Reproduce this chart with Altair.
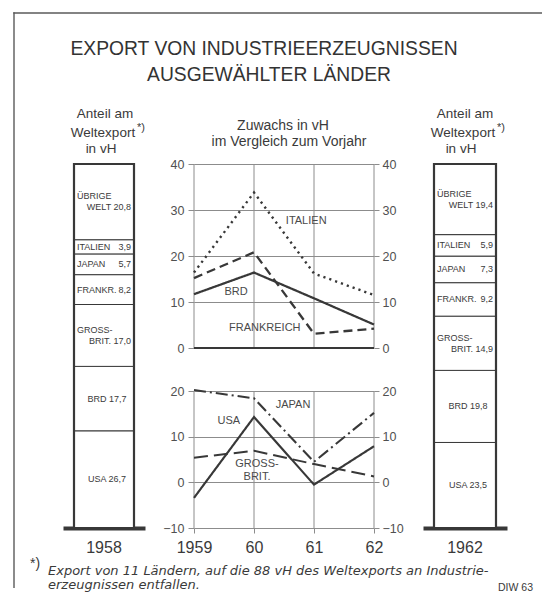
import altair as alt
import pandas as pd

# ---------------- data ----------------
years = [1959, 1960, 1961, 1962]
year_labels = ["1959", "60", "61", "62"]

# growth of exports vs. previous year (vH)
italien    = [16.4, 33.8, 16.2, 11.5]
frankreich = [15.2, 20.8, 3.1, 4.2]
brd        = [11.7, 16.4, 10.8, 5.1]
usa        = [-3.4, 14.3, -0.5, 7.9]
japan      = [20.2, 18.4, 4.5, 15.2]
grossbrit  = [5.4, 6.9, 4.0, 1.3]

# share of world exports (vH), bottom to top
seg_names  = ["USA", "BRD", "GROSS-BRIT.", "FRANKR.", "JAPAN", "ITALIEN", "ÜBRIGE WELT"]
share_1958 = [26.7, 17.7, 17.0, 8.2, 5.7, 3.9, 20.8]
share_1962 = [23.5, 19.8, 14.9, 9.2, 7.3, 5.9, 19.4]

# label layout inside the bars
seg_mode   = ["center", "center", "two", "split", "split", "split", "two"]
seg_line_a = ["", "", "GROSS-", "FRANKR.", "JAPAN", "ITALIEN", "ÜBRIGE"]
seg_line_b = ["USA", "BRD", "BRIT.", "", "", "", "WELT"]

# ---------------- style ----------------
FONT = "Liberation Sans"
TXT = "#3a3a3a"
DARK = "#383838"
GRID = "#8c8c8c"
FRAME = "#5a5a5a"

one = pd.DataFrame({"k": [0]})


def txt(text, x, y, size=13, align="center", italic=False, color=TXT, font=FONT):
    kw = dict(text=text, fontSize=size, align=align, baseline="middle", font=font, color=color)
    if italic:
        kw["fontStyle"] = "italic"
    return alt.Chart(one).mark_text(**kw).encode(x=alt.value(x), y=alt.value(y))


def fmt(v):
    return f"{v:.1f}".replace(".", ",")


def bar_panel(year_lbl, shares, bar_w, view_w, extra=()):
    rows = []
    s = 0.0
    for name, v, mode, la, lb in zip(seg_names, shares, seg_mode, seg_line_a, seg_line_b):
        r = dict(yr=year_lbl, name=name, start=s, end=s + v, mid=s + v / 2, mode=mode,
                 left_txt=la, right_txt="", center_txt="")
        if mode == "center":
            r["center_txt"] = f"{lb} {fmt(v)}"
        elif mode == "split":
            r["right_txt"] = fmt(v)
        else:
            r["right_txt"] = f"{lb} {fmt(v)}"
        rows.append(r)
        s += v
    df = pd.DataFrame(rows)
    total = pd.DataFrame({"yr": [year_lbl], "start": [0.0], "end": [s]})

    po = (view_w - bar_w) / 2 / bar_w
    X = alt.X("yr:N",
              scale=alt.Scale(type="band", domain=[year_lbl], paddingInner=0, paddingOuter=po),
              axis=alt.Axis(domain=True, domainWidth=4, domainColor=DARK, ticks=False, grid=False,
                            labelFontSize=16, labelPadding=11, labelAngle=0, labelColor=TXT,
                            labelFont=FONT, title=None))
    YS = alt.Scale(domain=[0, 100], nice=False, zero=False)

    segs = alt.Chart(df).mark_bar(fill="white", stroke=DARK, strokeWidth=1).encode(
        x=X, y=alt.Y("start:Q", scale=YS, axis=None), y2="end:Q")
    outer = alt.Chart(total).mark_bar(filled=False, stroke=DARK, strokeWidth=2.2).encode(
        x=X, y=alt.Y("start:Q", scale=YS, axis=None), y2="end:Q")

    half = bar_w / 2 - 3
    ymid = alt.Y("mid:Q", scale=YS, axis=None)
    base = alt.Chart(df)
    tk = dict(fontSize=9, font=FONT, color=TXT, baseline="middle")
    t_center = base.transform_filter(alt.datum.mode == "center").mark_text(align="center", dx=3, **tk).encode(
        x=X, y=ymid, text="center_txt:N")
    t_left1 = base.transform_filter(alt.datum.mode == "split").mark_text(align="left", dx=-half, **tk).encode(
        x=X, y=ymid, text="left_txt:N")
    t_right1 = base.transform_filter(alt.datum.mode == "split").mark_text(align="right", dx=half, **tk).encode(
        x=X, y=ymid, text="right_txt:N")
    t_left2 = base.transform_filter(alt.datum.mode == "two").mark_text(align="left", dx=-half, dy=-5.5, **tk).encode(
        x=X, y=ymid, text="left_txt:N")
    t_right2 = base.transform_filter(alt.datum.mode == "two").mark_text(align="right", dx=half, dy=5.5, **tk).encode(
        x=X, y=ymid, text="right_txt:N")

    heads = [
        txt("Anteil am", 42, -50, size=13.5),
        txt("Weltexport", 40, -31, size=13.5),
        txt("*)", 74, -36, size=11, align="left"),
        txt("in vH", 38, -15, size=13.5),
    ]
    return alt.layer(segs, outer, t_center, t_left1, t_right1, t_left2, t_right2, *heads, *extra).properties(
        width=view_w, height=364)


# frame + footnote live in the left panel (coordinates relative to its plot area)
frame_top = alt.Chart(one).mark_rect(color=FRAME).encode(
    x=alt.value(-49.7), x2=alt.value(479), y=alt.value(-151.7), y2=alt.value(-150.3))
frame_left = alt.Chart(one).mark_rect(color=FRAME).encode(
    x=alt.value(-49.7), x2=alt.value(-48.3), y=alt.value(-151.7), y2=alt.value(424))
foot = [
    frame_top, frame_left,
    txt("*)", -33, 400, size=14, align="left"),
    txt("Export von 11 Ländern, auf die 88 vH des Weltexports an Industrie-", -15, 407, size=13,
        align="left", italic=True, font="DejaVu Sans"),
    txt("erzeugnissen entfallen.", -15, 421, size=13, align="left", italic=True, font="DejaVu Sans"),
    txt("DIW 63", 470, 424, size=10.5, align="right"),
]

left = bar_panel("1958", share_1958, 60, 82, extra=foot)
right = bar_panel("1962", share_1962, 62, 84)

# ---------------- middle line charts ----------------
series = {"ITALIEN": italien, "FRANKREICH": frankreich, "BRD": brd,
          "USA": usa, "JAPAN": japan, "GROSS-BRIT.": grossbrit}
panel_of = {"ITALIEN": "U", "FRANKREICH": "U", "BRD": "U", "USA": "L", "JAPAN": "L", "GROSS-BRIT.": "L"}
lines_df = pd.DataFrame([
    {"series": k, "panel": panel_of[k], "year": y, "value": v}
    for k, vals in series.items() for y, v in zip(years, vals)
])

dash_domain = ["ITALIEN", "FRANKREICH", "BRD", "USA", "JAPAN", "GROSS-BRIT."]
dash_range = [[2.2, 4], [9, 5], [1, 0], [1, 0], [12, 4, 2, 4], [14, 6]]
width_range = [2.4, 2.0, 2.0, 3.2, 1.7, 1.8]

label_expr = " : ".join(
    f"datum.value == {y} ? '{l}'" for y, l in zip(years, year_labels)) + " : ''"
x_axis = alt.Axis(values=years, labelExpr=label_expr, domain=False, grid=False, ticks=True, tickSize=5,
                  tickColor=GRID, labelFontSize=16, labelColor=TXT, labelFont=FONT, labelPadding=6,
                  labelFlush=False, labelOverlap=False, title=None)
xenc = alt.X("year:Q", scale=alt.Scale(domain=[1959, 1962], nice=False, zero=False), axis=x_axis)


def yaxis(orient, vals, grid):
    return alt.Axis(orient=orient, values=vals, grid=grid, gridColor=GRID, gridWidth=1, domain=False,
                    ticks=True, tickSize=6 if orient == "left" else 5, tickColor=GRID,
                    labelPadding=4 if orient == "left" else 3, labelFontSize=12.5, labelColor="#505050",
                    labelFont=FONT, labelFlush=False, labelOverlap=False, title=None)


U_DOM, U_RANGE, U_TICKS = [0, 40], [184, 0], [0, 10, 20, 30, 40]
L_DOM, L_RANGE, L_TICKS = [-10, 20], [364, 227], [-10, 0, 10, 20]


def yenc(field, dom, rng, axis):
    return alt.Y(f"{field}:Q", scale=alt.Scale(domain=dom, range=rng, nice=False, zero=False), axis=axis)


dash_enc = alt.StrokeDash("series:N", scale=alt.Scale(domain=dash_domain, range=dash_range), legend=None)
width_enc = alt.StrokeWidth("series:N", scale=alt.Scale(domain=dash_domain, range=width_range), legend=None)

vr_up = pd.DataFrame({"year": years, "lo": [0] * 4, "hi": [40] * 4})
vr_lo = pd.DataFrame({"year": years, "lo": [-10] * 4, "hi": [20] * 4})
zero_df = pd.DataFrame({"year": [1959], "year2": [1962], "value": [0]})

ann_up = pd.DataFrame({"year": [1960.87, 1959.7, 1960.18], "value": [27.6, 12.2, 4.35],
                       "txt": ["ITALIEN", "BRD", "FRANKREICH"]})
ann_lo = pd.DataFrame({"year": [1960.65, 1959.58, 1960.05, 1960.05], "value": [17.0, 13.5, 4.0, 1.2],
                       "txt": ["JAPAN", "USA", "GROSS-", "BRIT."]})

ax_ul = yaxis("left", U_TICKS, True)
ax_ur = yaxis("right", U_TICKS, False)
ax_ll = yaxis("left", L_TICKS, True)
ax_lr = yaxis("right", L_TICKS, False)

# upper panel, right axis + vertical rules
B = alt.Chart(vr_up).mark_rule(color=GRID, strokeWidth=1).encode(
    x=xenc, y=yenc("lo", U_DOM, U_RANGE, ax_ur), y2="hi:Q")
# upper panel, left axis + lines
A = alt.layer(
    alt.Chart(zero_df).mark_rule(color=DARK, strokeWidth=2.2).encode(
        x=xenc, x2="year2:Q", y=yenc("value", U_DOM, U_RANGE, ax_ul)),
    alt.Chart(lines_df).transform_filter(alt.datum.panel == "U").mark_line(color=DARK).encode(
        x=xenc, y=yenc("value", U_DOM, U_RANGE, ax_ul), detail="series:N",
        strokeDash=dash_enc, strokeWidth=width_enc),
    alt.Chart(ann_up).mark_text(fontSize=11, font=FONT, color="#4a4a4a").encode(
        x=xenc, y=yenc("value", U_DOM, U_RANGE, ax_ul), text="txt:N"),
)
D = alt.Chart(vr_lo).mark_rule(color=GRID, strokeWidth=1).encode(
    x=xenc, y=yenc("lo", L_DOM, L_RANGE, ax_lr), y2="hi:Q")
C = alt.layer(
    alt.Chart(lines_df).transform_filter(alt.datum.panel == "L").mark_line(color=DARK).encode(
        x=xenc, y=yenc("value", L_DOM, L_RANGE, ax_ll), detail="series:N",
        strokeDash=dash_enc, strokeWidth=width_enc),
    alt.Chart(ann_lo).mark_text(fontSize=11, font=FONT, color="#4a4a4a").encode(
        x=xenc, y=yenc("value", L_DOM, L_RANGE, ax_ll), text="txt:N"),
)
titles = alt.layer(
    txt("EXPORT VON INDUSTRIEERZEUGNISSEN", 70, -115, size=19.3, color="#333333"),
    txt("AUSGEWÄHLTER LÄNDER", 75, -89, size=19.3, color="#333333"),
    txt("Zuwachs in vH", 89, -38, size=14),
    txt("im Vergleich zum Vorjahr", 95, -22, size=14),
)

middle = alt.layer(B, A, D, C, titles).resolve_scale(y="independent").properties(width=180, height=364)

chart = alt.hconcat(left, middle, right, spacing=49, bounds="flush").properties(
    padding={"left": 5, "top": 4, "right": 2, "bottom": 0}, background="white"
).configure_view(strokeWidth=0)

chart.save("out.html", embed_options={"renderer": "svg", "actions": False})
